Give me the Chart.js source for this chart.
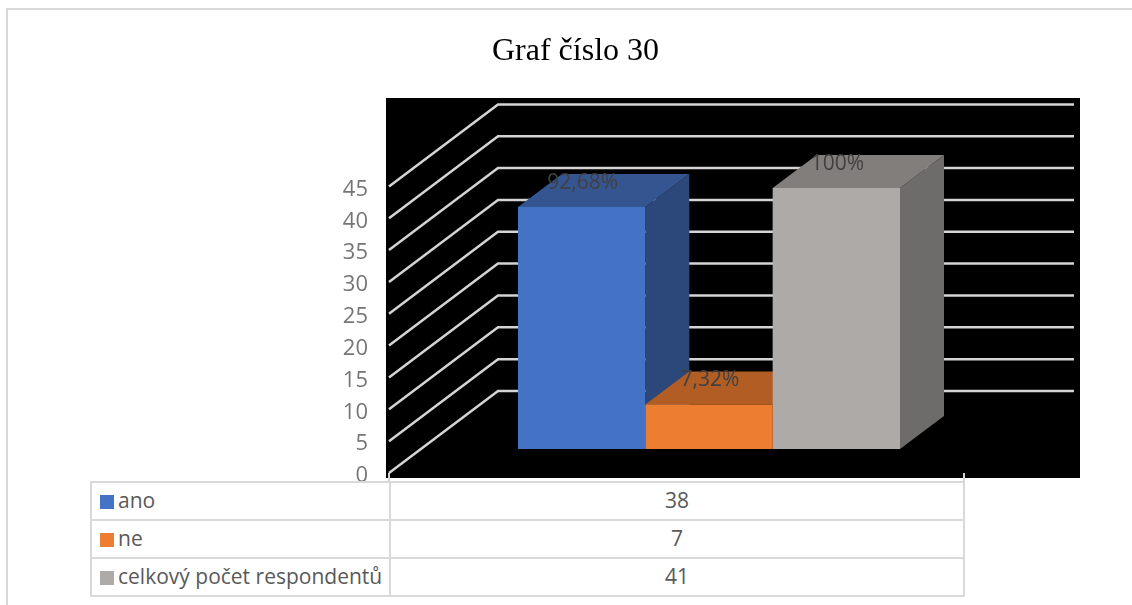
<!DOCTYPE html>
<html>
<head>
<meta charset="utf-8">
<title>Graf číslo 30</title>
<script src="https://cdn.jsdelivr.net/npm/chart.js@4"></script>
<style>
  html, body { margin: 0; padding: 0; background: #fff; }
  #wrap { position: relative; width: 1132px; height: 605px; overflow: hidden; }
  #frame { position: absolute; left: 6px; top: 8px; width: 1200px; height: 700px; border: 2px solid #d9d9d9; box-sizing: border-box; }
  canvas { position: absolute; left: 0; top: 0; }
  #dataTable {
    position: absolute; left: 90px; top: 481px; width: 875px;
    border-collapse: collapse; table-layout: fixed; background: #fff;
    font: 21px "Open Sans", sans-serif; color: #595959;
  }
  #dataTable td { border: 2px solid #d9d9d9; padding: 0 0 2px; height: 34px; line-height: 34px; white-space: nowrap; overflow: hidden; }
  #dataTable td:first-child { width: 289px; padding-left: 8px; }
  #dataTable td:last-child { text-align: center; }
  .swatch { display: inline-block; width: 14px; height: 14px; margin-right: 4px; vertical-align: -1px; }
</style>
</head>
<body>
<div id="wrap">
  <div id="frame"></div>
  <canvas id="myChart" width="1132" height="605"></canvas>
  <table id="dataTable"></table>
</div>
<script>
const categories = [""]
const seriesNames = ["ano", "ne", "celkový počet respondentů"]
const seriesValues = [38, 7, 41]
const percentLabels = ["92,68%", "7,32%", "100%"]
const yTicks = [0, 5, 10, 15, 20, 25, 30, 35, 40, 45]

// front, top and side colours of each 3D column
const frontColors = ["#4472c4", "#ed7d31", "#aeaaa8"]
const topColors = ["#355591", "#b25d24", "#827e7c"]
const sideColors = ["#2c4779", "#9c5220", "#6e6c6b"]

// floor depth of the 3D box and where the columns stand in it
const depthX = 109
const depthY = 82
const barShiftX = 32
const barShiftY = 24
const barDepthX = 44
const barDepthY = 33
const gridColor = "#d4d4d4"

const box3d = {
  id: "box3d",
  beforeDraw(chart) {
    const ctx = chart.ctx
    const area = chart.chartArea
    ctx.save()
    ctx.fillStyle = "#000"
    ctx.fillRect(area.left - 4, 98, 694, 380)
    ctx.restore()
  },
  beforeDatasetsDraw(chart) {
    const ctx = chart.ctx
    const area = chart.chartArea
    const y = chart.scales.y

    // gridlines run along the side wall, then across the back wall
    ctx.save()
    ctx.strokeStyle = gridColor
    ctx.lineWidth = 2.5
    yTicks.forEach((t) => {
      const py = y.getPixelForValue(t)
      ctx.beginPath()
      ctx.moveTo(area.left - 1, py)
      ctx.lineTo(area.left - 1 + depthX, py - depthY)
      ctx.lineTo(1074, py - depthY)
      ctx.stroke()
    })
    ctx.restore()

    // side and top faces first, the library paints the fronts over them.
    // this translate stays on until afterDatasetsDraw
    ctx.save()
    ctx.translate(barShiftX, -barShiftY)
    seriesValues.forEach((v, i) => {
      const bar = chart.getDatasetMeta(i).data[0]
      const l = bar.x - bar.width / 2
      const r = bar.x + bar.width / 2
      ctx.fillStyle = sideColors[i]
      ctx.beginPath()
      ctx.moveTo(r, bar.y)
      ctx.lineTo(r + barDepthX, bar.y - barDepthY)
      ctx.lineTo(r + barDepthX, bar.base - barDepthY)
      ctx.lineTo(r, bar.base)
      ctx.closePath()
      ctx.fill()
      ctx.fillStyle = topColors[i]
      ctx.beginPath()
      ctx.moveTo(l, bar.y)
      ctx.lineTo(l + barDepthX, bar.y - barDepthY)
      ctx.lineTo(r + barDepthX, bar.y - barDepthY)
      ctx.lineTo(r, bar.y)
      ctx.closePath()
      ctx.fill()
    })
  },
  afterDatasetsDraw(chart) {
    const ctx = chart.ctx
    const area = chart.chartArea
    ctx.fillStyle = "#404040"
    ctx.font = '21px "Open Sans", sans-serif'
    ctx.textAlign = "center"
    ctx.textBaseline = "middle"
    percentLabels.forEach((txt, i) => {
      const bar = chart.getDatasetMeta(i).data[0]
      ctx.fillText(txt, bar.x + 1, bar.y - 24)
    })
    ctx.restore()

    // little axis ticks above the table columns
    ctx.save()
    ctx.strokeStyle = gridColor
    ctx.lineWidth = 2
    ctx.beginPath()
    ctx.moveTo(area.left - 1, area.bottom)
    ctx.lineTo(area.left - 1, area.bottom + 9)
    ctx.moveTo(area.right, area.bottom)
    ctx.lineTo(area.right, area.bottom + 9)
    ctx.stroke()
    ctx.restore()
  },
}

const chart1 = document.getElementById("myChart")

var myChart = new Chart(chart1, {
  type: "bar",
  data: {
    labels: categories,
    datasets: seriesNames.map((name, i) => ({
      label: name,
      data: [seriesValues[i]],
      backgroundColor: frontColors[i],
      clip: false,
    })),
  },
  options: {
    responsive: false,
    animation: false,
    layout: {
      padding: { left: 187, right: 168, top: 0, bottom: 132 },
    },
    datasets: {
      bar: {
        barPercentage: 1,
        categoryPercentage: 0.6655,
      },
    },
    scales: {
      x: { display: false },
      y: {
        min: 0,
        max: 45,
        afterFit(scale) {
          scale.width = 203
        },
        afterBuildTicks(scale) {
          scale.ticks = yTicks.map((v) => ({ value: v }))
        },
        border: { display: false },
        grid: { display: false, drawTicks: false },
        ticks: {
          color: "#767676",
          padding: 22,
          labelOffset: 3,
          font: { family: "Open Sans", size: 22 },
        },
      },
    },
    plugins: {
      legend: { display: false },
      tooltip: { enabled: false },
      title: {
        display: true,
        text: "Graf číslo 30",
        color: "#000",
        font: { family: "Liberation Serif", size: 32, weight: "normal" },
        padding: { top: 32, bottom: 116 },
      },
    },
  },
  plugins: [box3d],
})

const table = document.getElementById("dataTable")
seriesNames.forEach((name, i) => {
  const row = table.insertRow()
  const head = row.insertCell()
  const swatch = document.createElement("span")
  swatch.className = "swatch"
  swatch.style.background = frontColors[i]
  head.append(swatch, name)
  row.insertCell().textContent = seriesValues[i]
})
</script>
</body>
</html>
